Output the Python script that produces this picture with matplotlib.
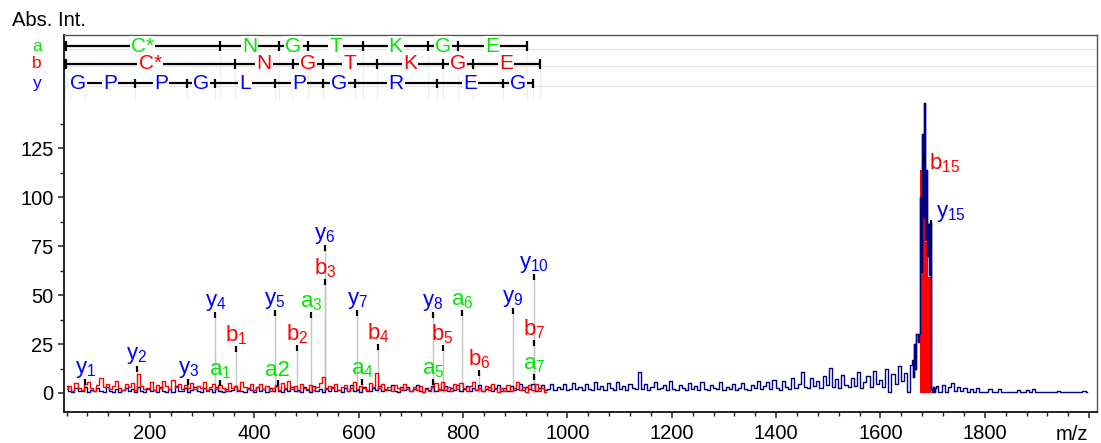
import numpy as np
import matplotlib
matplotlib.use("Agg")
import matplotlib.pyplot as plt
from matplotlib.ticker import FixedLocator

plt.rcParams['font.family'] = ['Liberation Sans', 'DejaVu Sans']
plt.rcParams['mathtext.fontset'] = 'custom'
plt.rcParams['mathtext.rm'] = 'Liberation Sans'

GREEN = '#00e600'
RED = '#ff0000'
BLUE = '#0000ff'
NAVY = '#000080'

# navy spectrum, one value every 6 m/z starting at 40
navy_start = 40
navy_noise = [
    3.5, 1.0, 0.5, 2.8, 0.8, 1.2, 3.0, 0.6, 1.5, 0.9, 2.5, 1.1, 0.4, 3.2, 1.0, 0.7, 2.0, 0.5, 1.3, 2.6,
    0.8, 1.9, 0.5, 3.0, 1.2, 0.6, 2.2, 0.9, 1.6, 0.4, 2.9, 1.0, 0.7, 1.8, 0.5, 3.4, 0.9, 1.2, 2.4, 0.6,
    1.4, 3.1, 0.8, 0.5, 2.7, 1.1, 1.9, 0.6, 3.3, 1.0, 0.7, 2.2, 0.9, 1.5, 3.6, 0.8, 1.2, 0.5, 2.5, 1.3,
    0.6, 3.0, 1.1, 1.8, 0.7, 2.6, 0.9, 3.8, 1.2, 0.5, 2.1, 1.0, 3.2, 0.8, 1.6, 0.6, 2.9, 1.3, 0.7, 3.5,
    1.0, 1.9, 0.6, 2.8, 1.2, 3.1, 0.9, 1.4, 0.5, 2.6, 1.1, 3.9, 0.8, 1.7, 0.6, 3.0, 1.2, 0.9, 2.3, 1.5,
    3.6, 0.8, 2.1, 1.3, 4.2, 1.0, 0.7, 2.9, 1.4, 3.3, 0.9, 1.8, 4.0, 1.1, 0.6, 2.7, 1.5, 3.4, 1.0, 2.2,
    1.3, 3.8, 0.9, 2.5, 1.6, 4.1, 1.2, 2.0, 3.5, 0.8, 2.8, 1.4, 4.3, 1.1, 1.9, 3.1, 0.9, 2.4, 3.9, 1.2,
    2.6, 1.0, 3.7, 1.5, 2.2, 4.4, 1.3, 3.0, 1.8, 4.6, 1.2, 2.7, 3.9, 1.4, 2.1, 4.8, 1.6, 3.2, 2.0, 4.5,
    1.5,
    2.0, 5.2, 1.8, 3.0, 1.5, 4.6, 2.2, 1.6, 5.8, 2.0, 3.4, 1.4, 4.9, 2.3, 1.7, 5.5, 2.1, 3.8, 1.5, 4.7,
    2.4, 1.8, 10.8, 2.0, 4.5, 1.6, 3.2, 5.6, 1.9, 2.8, 4.2, 1.5, 5.9, 2.2, 1.7, 4.0, 2.6, 1.4, 5.1, 2.0,
    3.5, 1.6, 5.4, 2.0, 1.3, 4.3, 2.4, 1.8, 5.7, 1.5, 3.0, 2.1, 4.6, 1.4, 2.8, 5.2, 1.9, 1.5, 4.0, 2.3,
    6.2, 1.8, 3.4, 5.5, 2.0, 6.8, 2.5, 1.7, 5.9, 3.0, 2.2, 7.4, 2.6, 4.6, 10.5, 3.1, 2.4, 7.8, 3.5, 6.3,
    2.8, 8.6, 4.0, 13.0, 3.2, 6.9, 2.5, 9.4, 4.2, 2.9, 7.6, 3.6, 10.8, 2.4, 5.8, 8.9, 3.0, 11.2, 4.4, 6.5,
    3.2, 12.0, 0.5, 9.8, 4.6, 13.6, 6.0, 10.4, 0.3, 14.5,
]

# precursor region, one value every 2 m/z starting at 1662
cluster_start = 1662
cluster_navy = [17, 8, 25, 12, 30, 26, 30, 100, 62, 132, 90, 148, 78, 114, 70, 86, 60, 87,
                2, 0.4, 3, 0.4, 2.5]
cluster_red = [0, 0, 0, 0, 0, 0, 0, 114, 114, 112, 114, 100, 77, 77, 77, 59, 59, 59,
               0, 0, 0, 0, 0]

# high-mass tail, every 6 m/z starting at 1708
tail_start = 1708
tail_navy = [3.5, 0.5, 4.0, 0.6, 3.0, 5.0, 0.8, 3.2, 1.0, 2.6, 0.6, 2.2, 0.5, 2.4, 0.5, 0.4,
             0.4, 1.8, 0.4, 0.4, 2.0, 0.4, 0.4, 0.4, 0.4, 0.4, 1.4, 0.4, 0.4, 1.6, 0.4, 1.8,
             0.4, 0.4, 0.4, 0.4, 0.4, 0.4, 0.4, 1.0, 0.4, 0.4, 0.4, 0.4, 0.4, 0.4, 0.4, 1.0, 0.4]

# red spectrum, every 6 m/z starting at 40
red_start = 40
red_noise = [
    1.8, 3.8, 1.0, 5.2, 2.4, 1.4, 4.4, 5.8, 2.8, 1.2, 4.2, 7.5, 3.2, 4.8, 1.8, 3.6, 6.0, 2.4, 1.6, 4.5,
    3.0, 5.0, 1.4, 9.5, 3.6, 1.9, 2.6, 5.5, 1.7, 4.0, 2.4, 6.2, 3.8, 2.1, 6.8, 3.1, 4.6, 1.8, 4.2, 2.6,
    5.2, 2.1, 3.8, 2.8, 5.6, 1.4, 3.3, 4.6, 1.9, 4.0, 2.6, 1.2, 5.2, 2.4, 3.5, 1.7, 5.8, 3.0, 2.1, 4.4,
    1.4, 3.0, 4.8, 1.9, 3.5, 1.0, 2.6, 4.2, 1.7, 5.0, 2.4, 6.0, 2.1, 3.7, 1.2, 4.6, 2.8, 1.8, 3.9, 1.4,
    3.2, 5.2, 8.0, 1.9, 3.5, 2.6, 4.8, 1.4, 3.0, 4.2, 1.2, 2.8, 5.4, 1.9, 3.7, 2.4, 1.4, 5.0, 3.0, 10.0,
    2.6, 4.4, 1.7, 3.3, 1.2, 4.0, 2.4, 1.4, 4.8, 1.9, 1.0, 3.0, 1.4, 3.5, 0.7, 2.1, 1.2, 3.3, 5.2, 1.7,
    5.6, 1.4, 3.0, 1.0, 4.4, 1.9, 5.2, 2.4, 1.2, 3.7, 5.8, 1.7, 2.6, 1.0, 3.5, 1.4, 4.6, 1.9, 0.7, 2.8,
    1.2, 4.2, 1.0, 2.6, 5.4, 1.4, 3.0, 0.7, 4.0, 1.7, 4.8, 1.2, 2.4, 0.7,
]

# assigned fragment ions
frag_mz = [76, 175, 273, 325, 334, 365, 439, 445, 482, 508, 535, 535, 597, 606, 637,
           742, 742, 761, 798, 830, 895, 936, 936, 936, 1683, 1696]
frag_int = [5.6, 12.5, 5.5, 40, 5, 22.5, 41, 5, 23, 40, 74, 56.5, 41, 5.5, 23.5,
            40, 5.5, 23, 41, 10, 42, 59, 25.5, 8, 120, 87]
frag_ion = ['y', 'y', 'y', 'y', 'a', 'b', 'y', 'a', 'b', 'a', 'y', 'b', 'y', 'a', 'b',
            'y', 'a', 'b', 'a', 'b', 'y', 'y', 'b', 'a', 'b', 'y']
frag_num = ['1', '2', '3', '4', '1', '1', '5', '', '2', '3', '6', '3', '7', '4', '4',
            '8', '5', '5', '6', '6', '9', '10', '7', '7', '15', '15']
frag_text = {('a', ''): 'a2'}

# sequence ladders: boundary m/z values and the residues between them
a_ladder = [37, 334, 447, 503, 608, 733, 790, 922]
b_ladder = [37, 363, 474, 531, 635, 761, 819, 947]
y_ladder = [47, 75, 171, 271, 325, 439, 531, 593, 750, 876, 934]
a_residues = ['C*', 'N', 'G', 'T', 'K', 'G', 'E']
b_residues = ['C*', 'N', 'G', 'T', 'K', 'G', 'E']
y_residues = ['G', 'P', 'P', 'G', 'L', 'P', 'G', 'R', 'E', 'G']

ion_colors = {'a': GREEN, 'b': RED, 'y': BLUE}

fig = plt.figure(figsize=(11.01, 4.43), dpi=100)
ax = fig.add_axes([64 / 1101, 31 / 443, 1033 / 1101, 377 / 443])

# spectra
navy_mz = navy_start + 6 * np.arange(len(navy_noise))
clus_mz = cluster_start + 2 * np.arange(len(cluster_navy))
tail_mz = tail_start + 6 * np.arange(len(tail_navy))
all_mz = np.concatenate([navy_mz, clus_mz, tail_mz])
all_navy = np.concatenate([navy_noise, cluster_navy, tail_navy])
ax.plot(all_mz, all_navy, drawstyle='steps-mid', color=NAVY, lw=1.0, zorder=2)

red_mz = red_start + 6 * np.arange(len(red_noise))
ax.plot(red_mz, red_noise, drawstyle='steps-mid', color=RED, lw=1.0, zorder=3)
ax.fill_between(clus_mz, 0, cluster_red, step='mid', color=RED, lw=0, zorder=3)
ax.plot(clus_mz, cluster_navy, drawstyle='steps-mid', color=NAVY, lw=1.0, zorder=4)

# fragment peaks, markers and labels
for mz, h, ion, num in zip(frag_mz, frag_int, frag_ion, frag_num):
    ax.vlines(mz, 0, h, color='#c4c4c4', lw=1.0, zorder=1.5)
    ax.plot([mz], [h], marker='|', ms=4.5, mew=1.6, color='black', zorder=6)
    txt = frag_text.get((ion, num), r'$\mathregular{%s_{%s}}$' % (ion, num))
    if mz > 1600:
        ax.annotate(txt, (mz, h), xytext=(4, -4 if ion == 'b' else -1), textcoords='offset points',
                    ha='left', va='center' if ion == 'b' else 'bottom',
                    fontsize=16, color=ion_colors[ion], zorder=7)
    else:
        ax.annotate(txt, (mz, h), xytext=(0, 1.5), textcoords='offset points',
                    ha='center', va='bottom', fontsize=16, color=ion_colors[ion], zorder=7)

# sequence ladders above the spectrum
rows = [('a', a_ladder, a_residues, 177), ('b', b_ladder, b_residues, 168),
        ('y', y_ladder, y_residues, 158)]
for ion, ticks, residues, level in rows:
    ax.axhline(level - 1.2, color='#e2e2e2', lw=0.8, zorder=0.5)
    for t in ticks:
        ax.vlines(t, 150, level, color='#ececec', lw=0.8, zorder=0.5)
    ax.hlines(level, ticks[0], ticks[-1], color='black', lw=1.6, zorder=5)
    ax.vlines(ticks[1:], level - 2.4, level + 2.4, color='black', lw=1.6, zorder=5)
    ax.vlines(ticks[0], level - 2.7, level + 2.7, color='black', lw=3, zorder=5)
    for left, right, res in zip(ticks[:-1], ticks[1:], residues):
        ax.text((left + right) / 2, level, res, ha='center', va='center', fontsize=15,
                color=ion_colors[ion], zorder=6,
                bbox=dict(boxstyle='square,pad=0.05', fc='white', ec='none'))
    ax.text(-0.026, level, ion, transform=ax.get_yaxis_transform(), ha='center', va='center',
            fontsize=12.5, color=ion_colors[ion])

ax.set_xlim(35, 2015)
ax.set_ylim(-9.7, 182.7)

ax.xaxis.set_major_locator(FixedLocator(np.arange(200, 2001, 200)))
ax.xaxis.set_minor_locator(FixedLocator(np.arange(40, 2001, 40)))
ax.set_xticklabels([str(v) for v in range(200, 1801, 200)] + [''])
ax.yaxis.set_major_locator(FixedLocator([0, 25, 50, 75, 100, 125]))
ax.yaxis.set_minor_locator(FixedLocator(np.arange(0, 140, 12.5)))
ax.tick_params(which='major', direction='out', length=4.5, width=1.1, labelsize=14.5,
               color='#222222', pad=3)
ax.tick_params(which='minor', direction='out', length=3, width=1.0, color='#222222')
ax.tick_params(axis='x', which='major', pad=4)

for side in ['left', 'bottom']:
    ax.spines[side].set_color('#222222')
    ax.spines[side].set_linewidth(1.4)
for side in ['top', 'right']:
    ax.spines[side].set_color('#555555')
    ax.spines[side].set_linewidth(1.0)

ax.text(0.976, -0.06, 'm/z', transform=ax.transAxes, ha='center', va='center', fontsize=14.5)
fig.text(12 / 1101, 1 - 20 / 443, 'Abs. Int.', ha='left', va='center', fontsize=14.5)

fig.savefig('out.png', dpi=100)
